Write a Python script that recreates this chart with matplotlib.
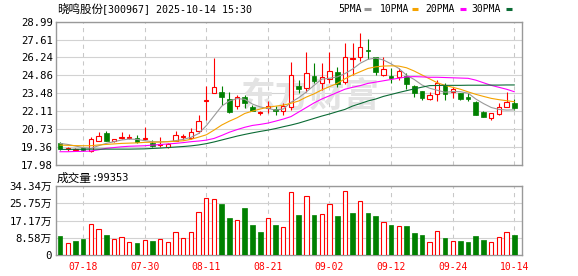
import matplotlib
matplotlib.use("Agg")
import matplotlib.pyplot as plt
from matplotlib.lines import Line2D
import numpy as np

# ---- data ----
dates = ["07-15", "07-16", "07-17", "07-18", "07-21", "07-22", "07-23", "07-24", "07-25", "07-28",
         "07-29", "07-30", "07-31", "08-01", "08-04", "08-05", "08-06", "08-07", "08-08", "08-11",
         "08-12", "08-13", "08-14", "08-15", "08-18", "08-19", "08-20", "08-21", "08-22", "08-25",
         "08-26", "08-27", "08-28", "08-29", "09-01", "09-02", "09-03", "09-04", "09-05", "09-08",
         "09-09", "09-10", "09-11", "09-12", "09-15", "09-16", "09-17", "09-18", "09-19", "09-22",
         "09-23", "09-24", "09-25", "09-26", "09-29", "09-30", "10-09", "10-10", "10-13", "10-14"]

opens = [19.64, 19.19, 19.15, 19.25, 19.05, 19.84, 20.41, 19.84, 20.03, 20.03,
         20.07, 20.00, 19.64, 19.51, 19.36, 19.84, 20.15, 20.03, 20.59, 22.90,
         23.53, 23.61, 23.05, 22.53, 23.18, 22.41, 21.95, 22.33, 22.26, 22.12,
         22.41, 24.05, 23.87, 24.82, 24.26, 24.56, 25.15, 24.38, 26.15, 26.25,
         26.85, 26.25, 24.89, 24.82, 24.72, 24.82, 24.05, 23.69, 23.03, 23.43,
         24.12, 23.61, 23.49, 23.23, 22.84, 22.07, 21.56, 21.90, 22.46, 22.72]
closes = [19.21, 19.26, 19.20, 19.15, 19.97, 20.20, 19.84, 19.97, 20.10, 20.15,
          19.77, 20.05, 19.46, 19.57, 19.62, 20.28, 20.20, 20.54, 21.36, 22.97,
          24.00, 23.18, 22.07, 23.18, 22.72, 22.15, 22.07, 22.51, 22.15, 22.51,
          24.89, 23.82, 25.02, 24.43, 24.72, 25.23, 24.20, 26.30, 26.22, 27.07,
          26.77, 25.15, 25.33, 24.66, 25.18, 24.20, 23.53, 23.15, 23.36, 24.30,
          23.43, 23.79, 23.05, 23.03, 21.82, 21.64, 21.95, 22.41, 22.84, 22.33]
highs = [19.74, 19.38, 19.30, 19.30, 20.15, 20.49, 20.59, 19.97, 20.49, 20.33,
         20.30, 20.90, 19.90, 20.15, 19.70, 20.59, 20.40, 20.79, 21.82, 24.05,
         26.20, 24.05, 23.61, 23.36, 23.36, 22.59, 22.15, 22.92, 22.51, 22.72,
         25.91, 24.50, 26.64, 25.79, 25.79, 26.64, 25.50, 27.38, 27.38, 28.14,
         27.64, 26.30, 26.24, 25.40, 25.40, 25.07, 24.10, 23.69, 23.58, 24.51,
         24.26, 24.00, 23.49, 23.50, 22.92, 22.10, 21.95, 22.72, 23.60, 23.03]
lows = [19.14, 19.05, 19.05, 19.08, 19.00, 19.80, 19.80, 19.75, 19.97, 20.00,
        19.70, 19.90, 19.40, 19.40, 19.30, 19.80, 19.90, 19.95, 20.41, 21.43,
        23.50, 22.59, 22.00, 22.26, 22.33, 22.10, 21.85, 22.00, 21.82, 21.80,
        22.20, 23.50, 23.61, 24.26, 23.74, 24.30, 23.95, 24.20, 24.89, 25.99,
        26.10, 24.89, 24.80, 24.25, 24.50, 23.82, 23.23, 22.97, 22.98, 22.92,
        22.97, 23.10, 22.95, 22.90, 21.82, 21.64, 21.43, 21.82, 22.46, 22.20]

ma5 = [19.64, 19.56, 19.44, 19.31, 19.26, 19.46, 19.64, 19.77, 19.90, 19.97,
       19.95, 19.85, 19.77, 19.75, 19.78, 19.85, 19.95, 20.10, 20.40, 21.00,
       21.75, 22.50, 22.90, 23.08, 23.03, 22.66, 22.44, 22.33, 22.20, 22.28,
       22.80, 23.15, 23.60, 24.10, 24.58, 24.64, 24.75, 25.00, 25.35, 25.80,
       26.10, 26.20, 26.05, 25.75, 25.40, 24.88, 24.55, 24.13, 23.88, 23.72,
       23.57, 23.62, 23.61, 23.50, 23.05, 22.70, 22.40, 22.25, 22.20, 22.22]
ma10 = [19.51, 19.49, 19.47, 19.46, 19.46, 19.52, 19.56, 19.60, 19.64, 19.66,
        19.68, 19.72, 19.73, 19.75, 19.77, 19.80, 19.84, 19.95, 20.12, 20.30,
        20.66, 21.05, 21.35, 21.61, 21.94, 22.12, 22.28, 22.42, 22.50, 22.58,
        22.72, 22.90, 23.20, 23.45, 23.75, 24.00, 24.25, 24.60, 24.90, 25.15,
        25.40, 25.52, 25.58, 25.60, 25.58, 25.45, 25.20, 24.90, 24.60, 24.30,
        24.10, 23.95, 23.80, 23.60, 23.41, 23.25, 23.10, 23.00, 22.92, 22.84]
ma20 = [19.00, 19.00, 19.02, 19.03, 19.05, 19.15, 19.26, 19.32, 19.38, 19.42,
        19.44, 19.46, 19.51, 19.55, 19.60, 19.64, 19.70, 19.77, 19.82, 19.89,
        20.02, 20.25, 20.50, 20.70, 20.88, 21.02, 21.10, 21.20, 21.35, 21.51,
        21.70, 22.05, 22.40, 22.75, 23.05, 23.30, 23.55, 23.80, 23.95, 24.08,
        24.25, 24.35, 24.45, 24.55, 24.65, 24.75, 24.77, 24.75, 24.72, 24.72,
        24.70, 24.68, 24.66, 24.64, 24.50, 24.30, 24.10, 23.95, 23.80, 23.61]
ma30 = [19.18, 19.18, 19.19, 19.19, 19.20, 19.20, 19.20, 19.20, 19.20, 19.20,
        19.21, 19.22, 19.25, 19.28, 19.32, 19.36, 19.40, 19.45, 19.52, 19.62,
        19.75, 19.90, 20.05, 20.20, 20.33, 20.45, 20.56, 20.66, 20.78, 20.92,
        21.05, 21.20, 21.38, 21.56, 21.74, 21.90, 22.08, 22.25, 22.51, 22.70,
        22.90, 23.05, 23.25, 23.40, 23.55, 23.69, 23.83, 23.96, 24.08, 24.09,
        24.10, 24.10, 24.10, 24.11, 24.11, 24.11, 24.12, 24.12, 24.13, 24.13]

# volume in 万 shares, and bar colour flag (1 = red)
volume = [9.8, 5.9, 7.0, 7.85, 15.7, 13.2, 10.3, 7.85, 9.2, 6.4,
          6.05, 7.4, 7.0, 7.85, 6.4, 11.3, 8.8, 11.3, 21.6, 28.5,
          28.0, 25.5, 18.6, 17.7, 23.5, 14.9, 11.4, 18.6, 14.9, 14.2,
          31.2, 20.1, 29.4, 20.1, 20.6, 25.5, 19.6, 31.7, 21.1, 26.8,
          21.1, 19.6, 16.7, 15.2, 14.6, 14.7, 11.0, 10.3, 6.4, 12.1,
          8.8, 7.2, 6.9, 6.4, 9.8, 7.4, 6.7, 9.2, 11.6, 9.9353]
vol_up = [0, 1, 0, 0, 1, 1, 0, 1, 1, 1, 0, 1, 0, 1, 1, 1, 1, 1, 1, 1,
          1, 0, 0, 1, 0, 0, 0, 1, 0, 1, 1, 0, 1, 0, 1, 1, 0, 1, 0, 1,
          0, 0, 1, 0, 1, 0, 0, 0, 1, 1, 0, 1, 0, 0, 0, 0, 1, 1, 1, 0]

price_ticks = [17.98, 19.36, 20.73, 22.11, 23.48, 24.86, 26.24, 27.61, 28.99]
vol_ticks = [0, 8.58, 17.17, 25.75, 34.34]
vol_labels = ["0", "8.58万", "17.17万", "25.75万", "34.34万"]
tick_idx = [3, 11, 19, 27, 35, 43, 51, 59]

RED = "#ff0000"
GREEN = "#008000"
MONO = "DejaVu Sans Mono"
CJK = "Noto Sans CJK SC"

W, H = 578, 276
fig = plt.figure(figsize=(W / 100, H / 100), dpi=100)
fig.patch.set_facecolor("white")


def fx(px):
    return px / W


def fy(py):
    return 1 - py / H


ax1 = fig.add_axes([fx(56), fy(165), fx(466.3), 143.3 / H])
ax2 = fig.add_axes([fx(56), fy(255.3), fx(466.3), 69.3 / H])

x = np.arange(len(closes))
o = np.array(opens)
c = np.array(closes)
up = c >= o

# candles
for i in x:
    col = RED if up[i] else GREEN
    ax1.vlines(i, lows[i], highs[i], color=col, lw=0.8, zorder=3)
body_h = np.maximum(np.abs(c - o), 0.04)
body_b = np.minimum(c, o)
ax1.bar(x[up], body_h[up], bottom=body_b[up], width=0.55, facecolor="white",
        edgecolor=RED, lw=0.8, zorder=4)
ax1.bar(x[~up], body_h[~up], bottom=body_b[~up], width=0.62, facecolor=GREEN,
        edgecolor=GREEN, lw=0.5, zorder=4)

# moving averages
ma_cols = ["#999999", "#f5a300", "#ff00ff", "#0b6b35"]
for ma, col in zip([ma5, ma10, ma20, ma30], ma_cols):
    ax1.plot(x, ma, color=col, lw=0.8, zorder=5)

# watermark
ax1.text(32.5, 23.3, "东方财富", fontsize=25, fontweight="bold", color="#e3e3e3",
         family=CJK, ha="center", va="center", zorder=1)

# volume
vu = np.array(vol_up, dtype=bool)
v = np.array(volume)
ax2.bar(x[vu], v[vu], width=0.55, facecolor="white", edgecolor=RED, lw=0.8, zorder=3)
ax2.bar(x[~vu], v[~vu], width=0.62, facecolor=GREEN, edgecolor=GREEN, lw=0.5, zorder=3)

for ax in (ax1, ax2):
    ax.set_xlim(-0.52, 60.04)
    ax.set_xticks(tick_idx)
    ax.tick_params(length=0)
    for s in ax.spines.values():
        s.set_color("#999999")
        s.set_linewidth(1.0)
    ax.grid(axis="y", color="#d2d2d2", lw=0.8, ls="-", zorder=0)
    ax.grid(axis="x", color="#c8c8c8", lw=0.75, ls=(0, (4, 4)), zorder=0)
    ax.set_axisbelow(True)

ax1.set_ylim(price_ticks[0], price_ticks[-1])
ax1.set_yticks(price_ticks)
ax1.set_yticklabels(["%.2f" % t for t in price_ticks], family=MONO, fontsize=7.7)
ax1.tick_params(axis="y", pad=2.2)
ax1.set_xticklabels([])

ax2.set_ylim(0, 34.34)
ax2.set_yticks(vol_ticks)
ax2.set_yticklabels(vol_labels, family=[MONO, CJK], fontsize=7.7)
ax2.tick_params(axis="y", pad=3)
ax2.set_xticklabels([dates[i] for i in tick_idx], family=MONO, fontsize=7, color=RED)
ax2.tick_params(axis="x", pad=4.5)

# header texts
fig.text(fx(57), fy(9.5), "晓鸣股份", family=CJK, fontsize=8.3, va="center", ha="left")
fig.text(fx(102), fy(9.5), "[300967] 2025-10-14 15:30", family=MONO, fontsize=7.2,
         va="center", ha="left")

legend = [("5PMA", 338, 364.5), ("10PMA", 380, 412), ("20PMA", 425, 459.5), ("30PMA", 471, 505.5)]
for (name, tx, dx), col in zip(legend, ma_cols):
    fig.text(fx(tx), fy(9.5), name, family=MONO, fontsize=7, va="center", ha="left")
    fig.add_artist(Line2D([fx(dx), fx(dx + 6)], [fy(9), fy(9)], color=col, lw=2.2,
                          transform=fig.transFigure, solid_capstyle="butt"))

fig.text(fx(57), fy(178), "成交量", family=CJK, fontsize=8.4, va="center", ha="left")
fig.text(fx(92), fy(178), ":99353", family=MONO, fontsize=7.5, va="center", ha="left")

fig.savefig("out.png", dpi=100)
